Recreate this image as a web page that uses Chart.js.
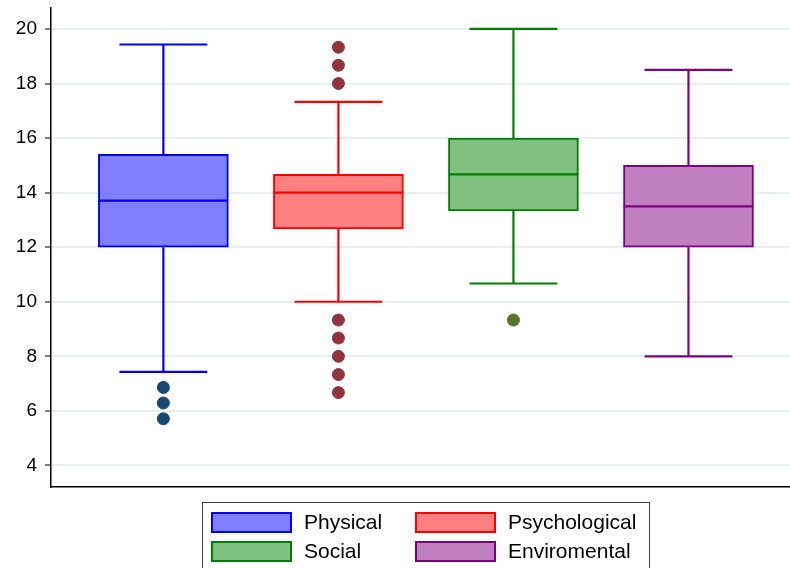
<!DOCTYPE html>
<html>
<head>
<meta charset="utf-8">
<script src="https://cdn.jsdelivr.net/npm/chart.js@4.4.0/dist/chart.umd.min.js"></script>
<style>
    body { margin: 0; background: #fff; font-family: "Liberation Sans", Arial, sans-serif; overflow: hidden; }
    #outer { position: relative; width: 790px; height: 568px; overflow: hidden; }
    #wrap { position: absolute; left: 0; top: -12px; width: 797px; height: 580px; }
    #legend {
        position: absolute; left: 202px; top: 502px; width: 448px; height: 70px;
        border: 1px solid #404040; box-sizing: border-box;
    }
    .item { position: absolute; display: flex; align-items: center; font-size: 21px; color: #000; }
    .key { width: 77px; height: 17px; border: 2px solid; margin-right: 12px; }
</style>
</head>
<body>
<div id="outer">
<div id="wrap">
    <canvas id="boxChart"></canvas>
</div>
<div id="legend"></div>
</div>
<script>
const domains = ['Physical', 'Psychological', 'Social', 'Enviromental'];
const lowerWhisker = [7.43, 10, 10.67, 8];
const q1Values = [12, 12.67, 13.33, 12];
const medianValues = [13.71, 14, 14.67, 13.5];
const q3Values = [15.4, 14.67, 16, 15];
const upperWhisker = [19.43, 17.33, 20, 18.5];
const outlierValues = [
    [6.86, 6.29, 5.71],
    [19.33, 18.67, 18, 9.33, 8.67, 8, 7.33, 6.67],
    [9.33],
    []
];
const yTicks = [4, 6, 8, 10, 12, 14, 16, 18, 20];

const fillColors = ['#8080ff', '#ff8080', '#80c080', '#c080c0'];
const lineColors = ['#0000ff', '#ff0000', '#008000', '#800080'];
const dotColors = ['#1a476f', '#90353b', '#55752f', '#800080'];

const boxHalf = 0.371;
const capHalf = 0.251;

const datasets = [];

domains.forEach((name, i) => {
    const x = i + 1;
    // box (q1 to q3)
    datasets.push({
        type: 'bar',
        label: name,
        data: [{ x: x, y: [q1Values[i], q3Values[i]] }],
        backgroundColor: fillColors[i],
        borderColor: lineColors[i],
        borderWidth: 2,
        borderSkipped: false,
        barThickness: 130,
        grouped: false,
        order: 3
    });
    // whiskers, caps and median
    datasets.push({
        type: 'line',
        label: name + ' lines',
        data: [
            { x: x, y: q3Values[i] }, { x: x, y: upperWhisker[i] }, { x: x, y: NaN },
            { x: x - capHalf, y: upperWhisker[i] }, { x: x + capHalf, y: upperWhisker[i] }, { x: x, y: NaN },
            { x: x, y: q1Values[i] }, { x: x, y: lowerWhisker[i] }, { x: x, y: NaN },
            { x: x - capHalf, y: lowerWhisker[i] }, { x: x + capHalf, y: lowerWhisker[i] }, { x: x, y: NaN },
            { x: x - boxHalf, y: medianValues[i] }, { x: x + boxHalf, y: medianValues[i] }
        ],
        borderColor: lineColors[i],
        borderWidth: 2.2,
        pointRadius: 0,
        spanGaps: false,
        tension: 0,
        order: 2
    });
    // outliers
    datasets.push({
        type: 'scatter',
        label: name + ' outliers',
        data: outlierValues[i].map(v => ({ x: x, y: v })),
        backgroundColor: dotColors[i],
        borderColor: dotColors[i],
        pointRadius: 6,
        pointHoverRadius: 6,
        order: 1
    });
});

new Chart(document.getElementById('boxChart'), {
    type: 'bar',
    data: { datasets: datasets },
    options: {
        responsive: true,
        maintainAspectRatio: false,
        animation: false,
        layout: { padding: { top: 0, bottom: 81, left: 0, right: 0 } },
        plugins: { legend: { display: false }, tooltip: { enabled: false } },
        scales: {
            x: {
                type: 'linear',
                min: 0.358,
                max: 4.58,
                offset: false,
                ticks: { display: false },
                grid: { display: false, drawTicks: false },
                border: { display: true, color: '#000', width: 1.5 },
                afterFit: (scale) => { scale.height = 0; }
            },
            y: {
                min: 3.21,
                max: 20.79,
                afterBuildTicks: (scale) => { scale.ticks = yTicks.map(v => ({ value: v })); },
                afterFit: (scale) => { scale.width = 51; },
                ticks: {
                    color: '#000',
                    padding: 8,
                    font: { family: '"Liberation Sans", Arial, sans-serif', size: 19 }
                },
                grid: {
                    color: '#e8eff1',
                    lineWidth: 2,
                    drawTicks: true,
                    tickLength: 6,
                    tickColor: '#000',
                    tickWidth: 1
                },
                border: { display: true, color: '#000', width: 1.5 }
            }
        }
    }
});

// legend in two columns
const legendEl = document.getElementById('legend');
const colLeft = [8, 212];
const rowTop = [7, 36];
domains.forEach((name, i) => {
    const item = document.createElement('div');
    item.className = 'item';
    item.style.left = colLeft[i % 2] + 'px';
    item.style.top = rowTop[Math.floor(i / 2)] + 'px';
    item.innerHTML = `<span class="key" style="background:${fillColors[i]};border-color:${lineColors[i]}"></span><span>${name}</span>`;
    legendEl.appendChild(item);
});
</script>
</body>
</html>
